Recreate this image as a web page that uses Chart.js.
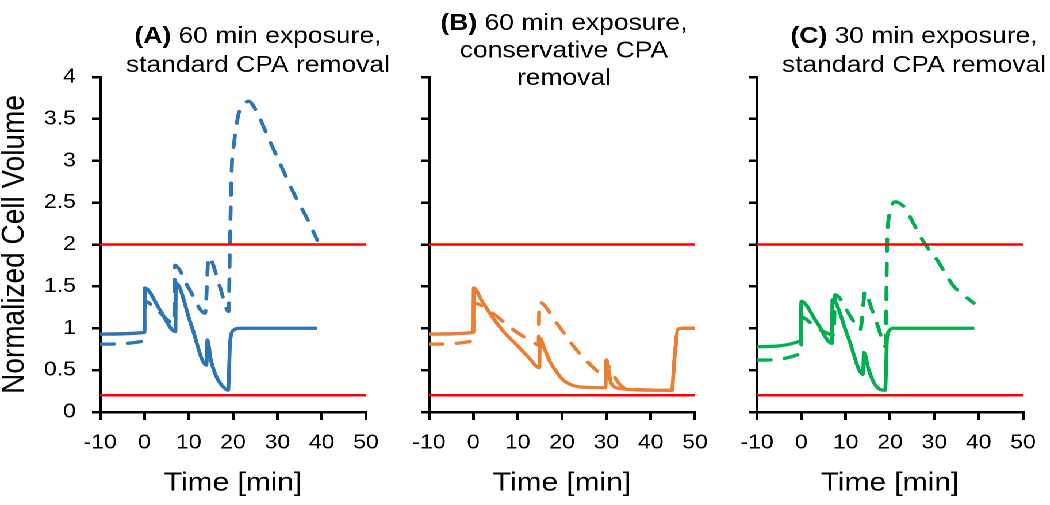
<!DOCTYPE html>
<html>
<head>
<meta charset="utf-8">
<script src="https://cdn.jsdelivr.net/npm/chart.js@4.4.1/dist/chart.umd.min.js"></script>
<style>
  html, body { margin: 0; padding: 0; background: #fff; overflow: hidden; }
  /* the original figure is a little stretched sideways, so the whole drawing is too */
  #wrap { position: absolute; left: 0; top: 0; width: 913px; height: 505px; transform: scaleX(1.15); transform-origin: 0 0; }
  .panel { position: absolute; top: 0; height: 505px; }
</style>
</head>
<body>
<div id="wrap">
  <div class="panel" style="left:0px;width:345px"><canvas id="chartA"></canvas></div>
  <div class="panel" style="left:330px;width:290px"><canvas id="chartB"></canvas></div>
  <div class="panel" style="left:620px;width:293px"><canvas id="chartC"></canvas></div>
</div>
<script>
// axes
const xTickLabels = ['-10', '0', '10', '20', '30', '40', '50'];
const yTickLabels = ['0', '0.5', '1', '1.5', '2', '2.5', '3', '3.5', '4'];
const limitLines = [2, 0.2];   // red volume limits

// (A) 60 min exposure, standard removal
const timeA_solid = [-10, 0, 0.1, 3.5, 7, 7.1, 10.5, 14, 14.2, 15, 16, 17, 18, 18.9, 19.1, 19.3, 19.6, 20.2, 21.5, 39];
const volA_solid  = [0.93, 0.95, 1.48, 1.22, 0.96, 1.54, 1.05, 0.56, 0.86, 0.62, 0.45, 0.35, 0.29, 0.26, 0.5, 0.8, 0.93, 0.98, 1.0, 1.0];
const timeA_dash  = [-10, 0, 0.1, 3, 6.7, 6.9, 10, 13.7, 14.5, 17, 19.0, 19.3, 19.7, 20.2, 21.3, 22.5, 23.5, 25, 28, 31, 34, 37, 39];
const volA_dash   = [0.81, 0.85, 1.32, 1.21, 1.06, 1.75, 1.48, 1.18, 1.85, 1.5, 1.2, 2.0, 2.9, 3.2, 3.57, 3.68, 3.71, 3.62, 3.27, 2.92, 2.58, 2.28, 2.05];

// (B) 60 min exposure, conservative removal
const timeB_solid = [-10, 0, 0.1, 2, 4.5, 7, 9.8, 12.5, 14.9, 15.0, 16, 17.3, 18.5, 19.6, 21.1, 24, 29.8, 30.0, 31.1, 33.2, 40, 44.8, 45.3, 46.2, 47.7, 50];
const volB_solid  = [0.93, 0.95, 1.48, 1.32, 1.12, 0.95, 0.80, 0.65, 0.53, 0.88, 0.76, 0.60, 0.50, 0.42, 0.35, 0.30, 0.29, 0.62, 0.34, 0.28, 0.26, 0.26, 0.6, 0.99, 1.0, 1.0];
const timeB_dash  = [-10, 0, 0.1, 3.8, 9.1, 13.9, 14.7, 14.9, 18.8, 23.3, 28.6, 29.9, 30.1, 31.6, 33.2, 35, 44.8, 45.3, 46.2, 47.7, 50];
const volB_dash   = [0.81, 0.85, 1.30, 1.20, 0.98, 0.82, 0.80, 1.31, 1.06, 0.74, 0.46, 0.42, 0.56, 0.44, 0.32, 0.28, 0.26, 0.6, 0.99, 1.0, 1.0];

// (C) 30 min exposure, standard removal
const timeC_solid = [-10, -0.2, 0, 3.5, 6.9, 7.0, 10.5, 13.9, 14.1, 15.2, 16.7, 18.6, 18.9, 19.1, 19.3, 19.8, 20.8, 39];
const volC_solid  = [0.78, 0.85, 1.32, 1.07, 0.82, 1.34, 0.90, 0.45, 0.71, 0.50, 0.32, 0.26, 0.26, 0.5, 0.86, 0.97, 1.0, 1.0];
const timeC_dash  = [-10, -0.1, 0.1, 3, 5, 7.3, 7.6, 11.1, 13.3, 14.0, 14.3, 15.8, 17.3, 19.0, 19.15, 19.35, 19.8, 20.5, 21.2, 22.2, 23.5, 25, 26.9, 28.5, 30.7, 32.5, 34.4, 36.5, 38.9];
const volC_dash   = [0.62, 0.70, 1.13, 1.02, 0.96, 0.92, 1.40, 1.14, 0.98, 1.3, 1.44, 1.24, 1.02, 0.78, 1.3, 2.0, 2.35, 2.48, 2.51, 2.49, 2.43, 2.28, 2.09, 1.96, 1.81, 1.65, 1.50, 1.40, 1.30];

// titles: [bold part, normal part] per line
const titleA = [['(A)', ' 60 min exposure,'], ['', 'standard CPA removal']];
const titleB = [['(B)', ' 60 min exposure,'], ['', 'conservative CPA'], ['', 'removal']];
const titleC = [['(C)', ' 30 min exposure,'], ['', 'standard CPA removal']];

const FONT = '"Liberation Sans", Arial, sans-serif';
Chart.defaults.font.family = FONT;
Chart.defaults.color = '#000';

function zip(xs, ys) {
  return xs.map((x, i) => ({ x: x, y: ys[i] }));
}

// draws the two/three line heading with a bold panel letter
const panelTitle = {
  id: 'panelTitle',
  afterDraw(chart, args, opts) {
    const ctx = chart.ctx;
    ctx.save();
    ctx.fillStyle = '#000';
    ctx.textBaseline = 'alphabetic';
    opts.lines.forEach((line, i) => {
      ctx.font = 'bold 23px ' + FONT;
      const wb = ctx.measureText(line[0]).width;
      ctx.font = '23px ' + FONT;
      const wn = ctx.measureText(line[1]).width;
      let x = opts.cx - (wb + wn) / 2;
      const y = opts.baselines[i];
      ctx.font = 'bold 23px ' + FONT;
      ctx.fillText(line[0], x, y);
      ctx.font = '23px ' + FONT;
      ctx.fillText(line[1], x + wb, y);
    });
    ctx.restore();
  }
};

function makePanel(id, p) {
  const red = limitLines.map(v => ({
    data: [{ x: -10, y: v }, { x: 50, y: v }],
    borderColor: '#ff0000',
    borderWidth: 2.5,
    pointRadius: 0
  }));
  new Chart(document.getElementById(id), {
    type: 'line',
    data: {
      datasets: red.concat([
        {
          data: zip(p.tSolid, p.vSolid),
          borderColor: p.color,
          borderWidth: 3.3,
          pointRadius: 0,
          cubicInterpolationMode: 'monotone'
        },
        {
          data: zip(p.tDash, p.vDash),
          borderColor: p.color,
          borderWidth: 3.3,
          borderDash: [12, 12],
          borderCapStyle: 'round',
          pointRadius: 0,
          cubicInterpolationMode: 'monotone'
        }
      ])
    },
    options: {
      responsive: true,
      maintainAspectRatio: false,
      devicePixelRatio: 2,
      animation: false,
      events: [],
      layout: { padding: { left: 0, right: p.padRight, top: 77, bottom: 0 } },
      plugins: {
        legend: { display: false },
        tooltip: { enabled: false },
        panelTitle: { lines: p.title, cx: p.titleX, baselines: p.baselines }
      },
      scales: {
        x: {
          type: 'linear',
          min: -10,
          max: 50,
          ticks: {
            stepSize: 10,
            padding: 13,
            font: { size: 20, lineHeight: 1 },
            callback: (v, i) => xTickLabels[i]
          },
          grid: { drawOnChartArea: false, tickLength: 8, color: '#000', lineWidth: 2.5, tickWidth: 2.5 },
          border: { display: true, color: '#000', width: 2.5 },
          title: { display: true, text: 'Time [min]', font: { size: 26, lineHeight: 1 }, padding: { top: 0, bottom: 8.5 } },
          afterFit: s => { s.height = 93; s.paddingLeft = 0; s.paddingRight = 0; }
        },
        y: {
          min: 0,
          max: 4,
          ticks: {
            stepSize: 0.5,
            display: p.showY,
            padding: 14,
            font: { size: 20, lineHeight: 1 },
            callback: (v, i) => yTickLabels[i]
          },
          grid: { drawOnChartArea: false, tickLength: 7, color: '#000', lineWidth: 2.5, tickWidth: 2.5 },
          border: { display: true, color: '#000', width: 2.5 },
          title: { display: p.showY, text: 'Normalized Cell Volume', font: { size: 28, lineHeight: 0.9 }, padding: 0 },
          afterFit: s => { s.width = p.yWidth; s.paddingTop = 0; s.paddingBottom = 0; }
        }
      }
    },
    plugins: [panelTitle]
  });
}

makePanel('chartA', {
  tSolid: timeA_solid, vSolid: volA_solid, tDash: timeA_dash, vDash: volA_dash,
  color: '#2e75b6', title: titleA, titleX: 224.3, baselines: [43, 72],
  showY: true, yWidth: 87, padRight: 26.7
});
makePanel('chartB', {
  tSolid: timeB_solid, vSolid: volB_solid, tDash: timeB_dash, vDash: volB_dash,
  color: '#ed7d31', title: titleB, titleX: 160.4, baselines: [30, 57.5, 85],
  showY: false, yWidth: 43, padRight: 15.6
});
makePanel('chartC', {
  tSolid: timeC_solid, vSolid: volC_solid, tDash: timeC_dash, vDash: volC_dash,
  color: '#00b050', title: titleC, titleX: 174.8, baselines: [43, 72],
  showY: false, yWidth: 38.3, padRight: 23.4
});
</script>
</body>
</html>
